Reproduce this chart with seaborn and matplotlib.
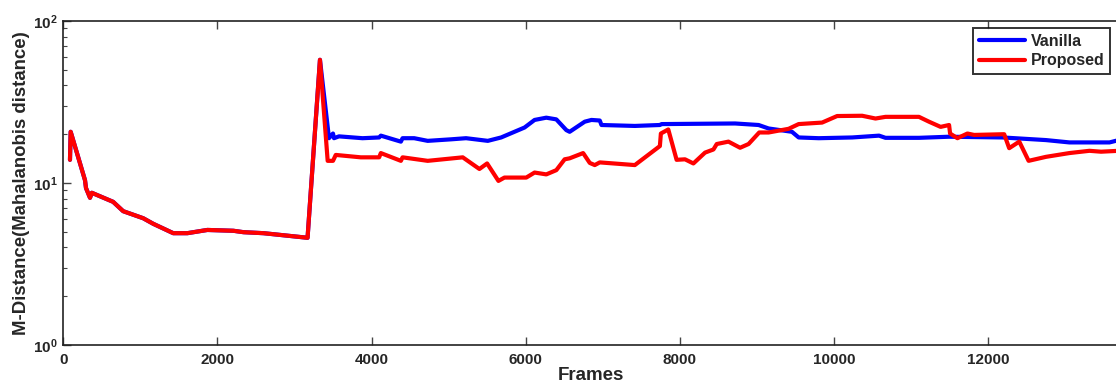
import numpy as np
import pandas as pd
import matplotlib
matplotlib.use("Agg")
import matplotlib.pyplot as plt
import matplotlib.ticker as mticker
import seaborn as sns

# ---- data ----
shared_frames = [87, 96, 282, 295, 347, 370, 647, 777, 1037, 1167, 1427, 1610,
                 1870, 2208, 2338, 2598, 3170, 3331]
shared_values = [13.9, 20.7, 10.4, 9.3, 8.1, 8.7, 7.65, 6.7, 6.06, 5.6, 4.9, 4.9,
                 5.13, 5.07, 4.97, 4.9, 4.59, 57.6]

vanilla_frames = [3448, 3500, 3513, 3578, 3883, 4099, 4121, 4381, 4403, 4554, 4729,
                  5032, 5227, 5509, 5682, 5986, 6116, 6268, 6398, 6528, 6571, 6767,
                  6854, 6962, 6984, 7417, 7742, 7765, 8718, 9023, 9153, 9456, 9543,
                  9804, 10238, 10586, 10670, 11104, 11495, 12189, 12752, 13056,
                  13577, 13697]
vanilla_values = [18.9, 20.2, 18.9, 19.4, 18.9, 19.1, 19.6, 18.0, 18.9, 18.9, 18.2,
                  18.6, 18.9, 18.2, 19.1, 22.0, 24.5, 25.3, 24.7, 21.2, 20.7, 23.9,
                  24.5, 24.3, 22.8, 22.5, 22.8, 23.1, 23.3, 22.8, 21.7, 20.7, 19.1,
                  18.9, 19.1, 19.6, 19.0, 19.0, 19.3, 19.1, 18.4, 17.8,
                  17.8, 18.4]

proposed_frames = [3431, 3500, 3536, 3861, 4099, 4121, 4381, 4403, 4729, 5184, 5400,
                   5500, 5647, 5725, 6008, 6116, 6268, 6398, 6506, 6571, 6746, 6832,
                   6897, 6962, 7417, 7742, 7755, 7851, 7959, 8068, 8177, 8328, 8437,
                   8480, 8632, 8783, 8893, 9031, 9153, 9413, 9543, 9847, 10042,
                   10367, 10540, 10670, 11104, 11234, 11385, 11495, 11508, 11603,
                   11733, 11820, 12210, 12275, 12406, 12527, 12752, 13056, 13316,
                   13467, 13697]
proposed_values = [13.7, 13.7, 14.9, 14.4, 14.4, 15.3, 13.7, 14.4, 13.7, 14.4, 12.2,
                   13.2, 10.3, 10.8, 10.8, 11.6, 11.3, 12.0, 14.0, 14.2, 15.3, 13.3,
                   12.9, 13.4, 12.9, 16.9, 20.2, 21.4, 13.9, 14.0, 13.2, 15.4, 16.1,
                   17.4, 18.0, 16.5, 17.4, 20.5, 20.5, 21.6, 23.1, 23.6, 25.9,
                   26.0, 25.0, 25.6, 25.6, 23.9, 22.2, 22.8, 20.2, 18.9,
                   20.2, 19.8, 20.0, 16.4, 18.0, 13.7, 14.5, 15.3, 15.8,
                   15.6, 15.8]

series_names = ["Vanilla", "Proposed"]
series_colors = ["#0000ff", "#ff0000"]
x_ticks = [0, 2000, 4000, 6000, 8000, 10000, 12000]
y_ticks = [1, 10, 100]
y_tick_labels = [r"$\mathbf{10^{0}}$", r"$\mathbf{10^{1}}$", r"$\mathbf{10^{2}}$"]
x_label = "Frames"
y_label = "M-Distance(Mahalanobis distance)"

# ---- build long-form table ----
frames_v = shared_frames + vanilla_frames
values_v = shared_values + vanilla_values
frames_p = shared_frames + proposed_frames
values_p = shared_values + proposed_values
df = pd.concat([
    pd.DataFrame({"Frames": frames_v, "Value": values_v, "Series": series_names[0]}),
    pd.DataFrame({"Frames": frames_p, "Value": values_p, "Series": series_names[1]}),
], ignore_index=True)

sns.set_style("ticks")
plt.rcParams["font.family"] = ["Liberation Sans", "DejaVu Sans"]
plt.rcParams["font.weight"] = "bold"
plt.rcParams["mathtext.fontset"] = "custom"
plt.rcParams["mathtext.bf"] = "Liberation Sans:bold"
plt.rcParams["mathtext.rm"] = "Liberation Sans:bold"

fig = plt.figure(figsize=(11.16, 3.90), dpi=100)
ax = fig.add_axes([0.0567, 0.1154, 0.9453, 0.8308])

sns.lineplot(data=df, x="Frames", y="Value", hue="Series", hue_order=series_names,
             palette=dict(zip(series_names, series_colors)), estimator=None,
             sort=False, units="Series", linewidth=3.0, ax=ax)

ax.set_yscale("log")
ax.set_ylim(1, 100)
ax.set_xlim(0, 13690)
ax.set_xticks(x_ticks)
ax.set_xticklabels([str(t) for t in x_ticks], fontsize=11, fontweight="bold")
ax.set_yticks(y_ticks)
ax.set_yticklabels(y_tick_labels, fontsize=11)
ax.yaxis.set_minor_locator(mticker.LogLocator(base=10, subs=np.arange(2, 10)))
ax.yaxis.set_minor_formatter(mticker.NullFormatter())

ax.tick_params(which="both", direction="in", top=True, right=False, color="#444444")
ax.tick_params(which="major", length=6, width=1)
ax.tick_params(which="minor", length=3, width=0.8)
ax.tick_params(axis="x", pad=6)
ax.tick_params(axis="y", pad=4)

for s in ax.spines.values():
    s.set_color("#222222")
    s.set_linewidth(1.2)

ax.set_xlabel(x_label, fontsize=13.5, fontweight="bold", labelpad=0)
ax.set_ylabel(y_label, fontsize=13.4, fontweight="bold", labelpad=2)

leg = ax.legend(loc="upper right", fontsize=11.5, frameon=True, fancybox=False,
                edgecolor="black", handlelength=2.9, borderpad=0.35,
                labelspacing=0.3, handletextpad=0.35, borderaxespad=0,
                bbox_to_anchor=(0.992, 0.978))
leg.get_frame().set_linewidth(1.4)
for t in leg.get_texts():
    t.set_fontweight("bold")

fig.savefig("out.png", dpi=100, facecolor="white")
